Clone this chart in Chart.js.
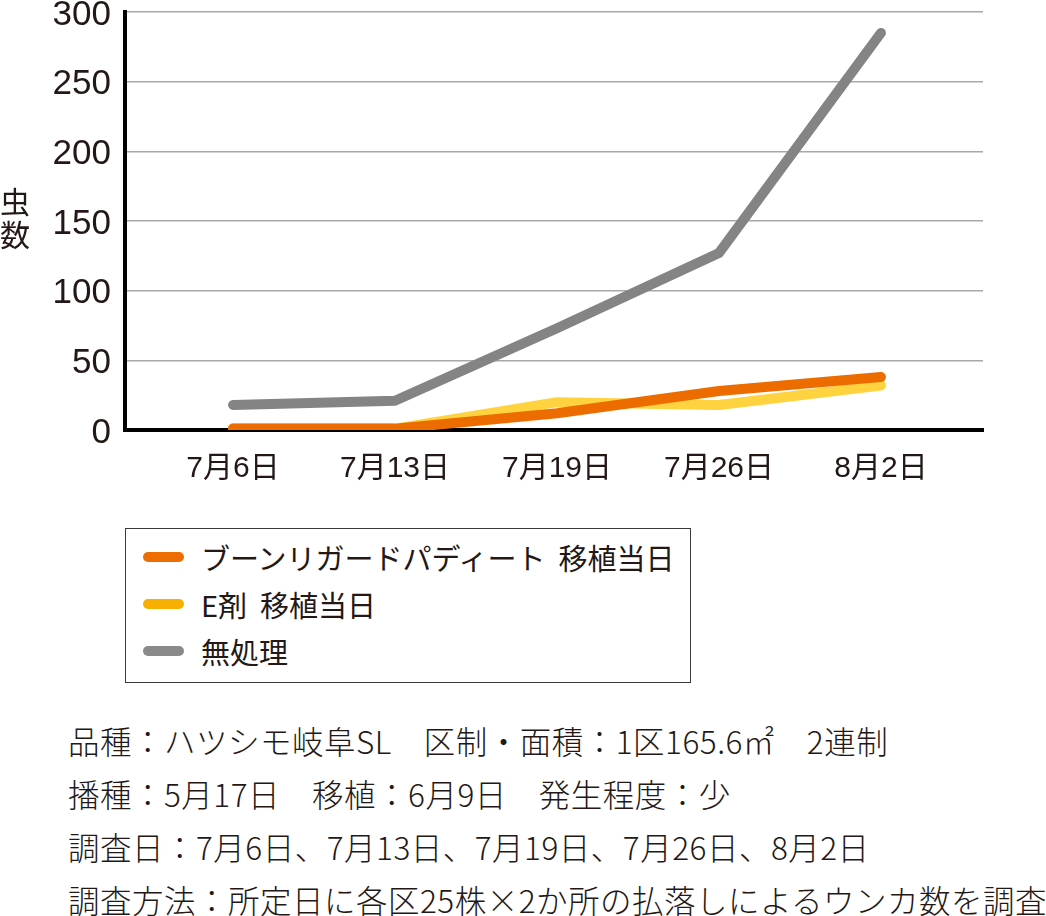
<!DOCTYPE html>
<html lang="ja">
<head>
<meta charset="utf-8">
<title>虫数の推移</title>
<script src="https://cdn.jsdelivr.net/npm/chart.js@4.4.1/dist/chart.umd.min.js"></script>
<style>
    body {
        margin: 0;
        background: #fff;
        color: #231815;
        font-family: "Liberation Sans", "Noto Sans CJK JP", sans-serif;
    }
    .page {
        position: relative;
        width: 1046px;
        height: 916px;
        overflow: hidden;
    }
    .chart-box {
        position: absolute;
        left: 0;
        top: -23px;
        width: 1046px;
        height: 523px;
    }
    .y-title {
        position: absolute;
        left: 0;
        top: 184px;
        font-size: 30px;
        line-height: 33px;
        font-family: "Noto Sans CJK JP", sans-serif;
    }
    .legend {
        position: absolute;
        left: 125px;
        top: 528px;
        width: 566px;
        height: 155px;
        border: 1.5px solid #3a3a3a;
        box-sizing: border-box;
        padding-top: 4px;
    }
    .legend-item {
        display: flex;
        align-items: center;
        height: 47px;
        font-size: 29px;
        white-space: nowrap;
        font-family: "Noto Sans CJK JP", sans-serif;
    }
    .legend-swatch {
        display: inline-block;
        flex: none;
        width: 41px;
        height: 10px;
        border-radius: 5px;
        margin-left: 17px;
        margin-right: 17px;
    }
    .notes {
        position: absolute;
        left: 68px;
        top: 714px;
        font-family: "Noto Sans CJK JP", sans-serif;
        font-weight: 300;
        font-size: 31.5px;
        letter-spacing: 0.5px;
        line-height: 53px;
        white-space: nowrap;
    }
</style>
</head>
<body>
<div class="page">
    <div class="chart-box"><canvas id="pestChart"></canvas></div>
    <div class="y-title">虫<br>数</div>
    <div class="legend" id="legend"></div>
    <div class="notes" id="notes"></div>
</div>
<script>
// Data
const dateLabels = ['7月6日', '7月13日', '7月19日', '7月26日', '8月2日'];
const seriesNames = ['ブーンリガードパディート  移植当日', 'E剤  移植当日', '無処理'];
const boonValues = [1, 1, 12, 28, 38];
const eValues = [1, 1, 20, 18, 32];
const untreatedValues = [18, 21, 73, 127, 285];
const yTicks = [0, 50, 100, 150, 200, 250, 300];

const noteLines = [
    '品種：ハツシモ岐阜SL　区制・面積：1区165.6㎡　2連制',
    '播種：5月17日　移植：6月9日　発生程度：少',
    '調査日：7月6日、7月13日、7月19日、7月26日、8月2日',
    '調査方法：所定日に各区25株×2か所の払落しによるウンカ数を調査'
];

// Colours
const lineColors = ['#ec6c00', '#ffd23f', '#848484'];
const swatchColors = ['#ee6d00', '#f8b000', '#8a8a8a'];
const textColor = '#231815';

const toPoints = values => values.map((v, i) => ({ x: i, y: v }));

function buildDataset(label, values, color) {
    return {
        label: label,
        data: toPoints(values),
        borderColor: color,
        backgroundColor: color,
        borderWidth: 10,
        borderCapStyle: 'round',
        borderJoinStyle: 'round',
        pointRadius: 0,
        pointHoverRadius: 0,
        tension: 0,
        fill: false
    };
}

const datasets = [
    buildDataset(seriesNames[0], boonValues, lineColors[0]),
    buildDataset(seriesNames[1], eValues, lineColors[1]),
    buildDataset(seriesNames[2], untreatedValues, lineColors[2])
];

// Chart
const ctx = document.getElementById('pestChart');
new Chart(ctx, {
    type: 'line',
    data: { datasets: datasets },
    options: {
        responsive: true,
        maintainAspectRatio: false,
        animation: false,
        layout: {
            padding: { left: 0, right: 63, top: 0, bottom: 0 }
        },
        plugins: {
            legend: { display: false },
            tooltip: { enabled: false }
        },
        scales: {
            x: {
                type: 'linear',
                min: -0.667,
                max: 4.63,
                z: 1,
                afterBuildTicks: scale => {
                    scale.ticks = dateLabels.map((_, i) => ({ value: i }));
                },
                afterFit: scale => {
                    scale.height = 70;
                },
                ticks: {
                    callback: value => dateLabels[value] || '',
                    color: textColor,
                    padding: 21,
                    maxRotation: 0,
                    autoSkip: false,
                    font: { family: '"Liberation Sans Narrow", "Liberation Sans", "Noto Sans CJK JP", sans-serif', size: 30 }
                },
                grid: { display: false, drawTicks: false },
                border: { display: true, color: '#000', width: 4 }
            },
            y: {
                min: 0,
                max: 300,
                z: 1,
                afterBuildTicks: scale => {
                    scale.ticks = yTicks.map(v => ({ value: v }));
                },
                afterFit: scale => {
                    scale.width = 125;
                },
                ticks: {
                    color: textColor,
                    padding: 14,
                    labelOffset: 3,
                    font: { family: '"Liberation Sans", sans-serif', size: 35 }
                },
                grid: {
                    color: '#a8a8a8',
                    lineWidth: 1.5,
                    drawTicks: false
                },
                border: { display: true, color: '#000', width: 4 }
            }
        }
    }
});

// Legend
const legendEl = document.getElementById('legend');
seriesNames.forEach((name, i) => {
    const item = document.createElement('div');
    item.className = 'legend-item';
    item.innerHTML = `<span class="legend-swatch" style="background:${swatchColors[i]}"></span><span>${name.replace(/ /g, '&nbsp;')}</span>`;
    legendEl.appendChild(item);
});

// Notes
document.getElementById('notes').innerHTML = noteLines.map(line => `<div>${line}</div>`).join('');
</script>
</body>
</html>
